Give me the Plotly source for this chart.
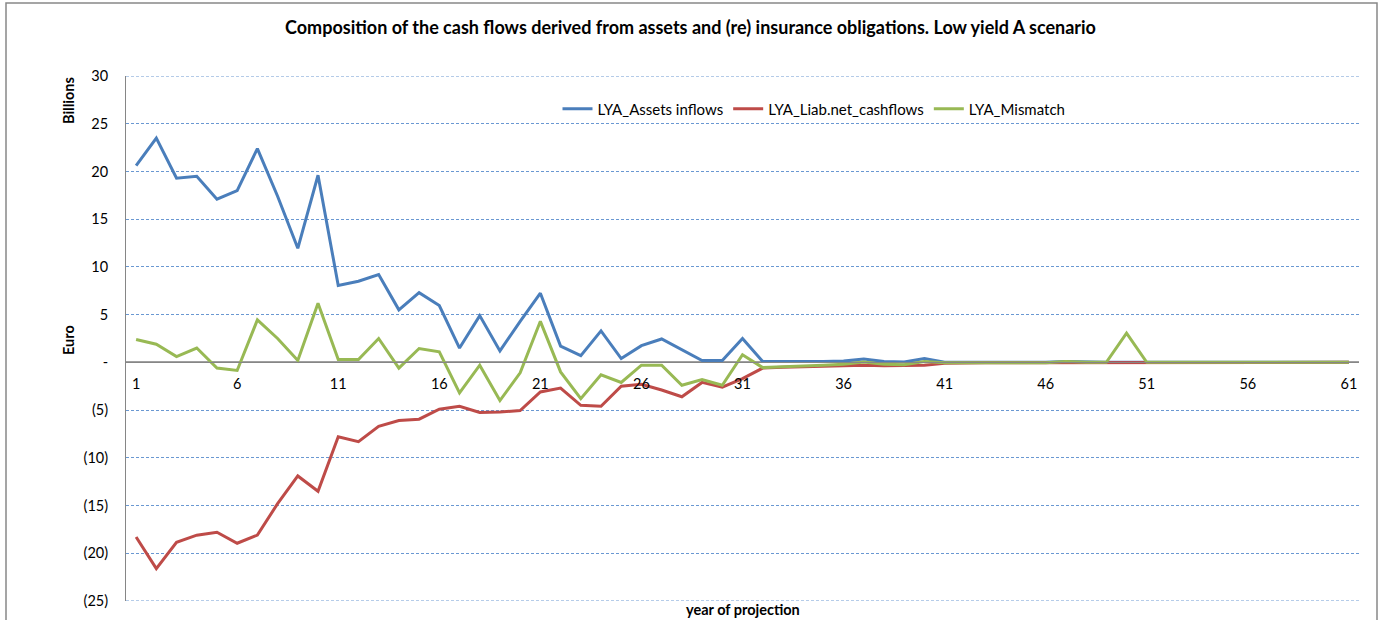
import plotly.graph_objects as go

years = list(range(1, 62))

assets_inflows = [20.6, 23.5, 19.3, 19.5, 17.1, 18.0, 22.4, 17.4, 11.95, 19.6,
                  8.05, 8.5, 9.2, 5.5, 7.3, 5.95, 1.5, 4.9, 1.2, 4.3,
                  7.25, 1.7, 0.7, 3.3, 0.4, 1.75, 2.45, 1.3, 0.2, 0.2,
                  2.5, 0.1, 0.08, 0.08, 0.08, 0.15, 0.35, 0.08, 0.05, 0.4,
                  0.02, 0.02, 0.02, 0.02, 0.02, 0.02, 0.1, 0.02, 0.0, 0.0,
                  0.0, 0.0, 0.0, 0.0, 0.0, 0.0, 0.0, 0.0, 0.0, 0.0, 0.0]

liab_net_cashflows = [-18.3, -21.6, -18.85, -18.1, -17.8, -18.95, -18.1, -14.8, -11.9, -13.5,
                      -7.8, -8.3, -6.7, -6.1, -5.95, -4.9, -4.6, -5.25, -5.2, -5.05,
                      -3.1, -2.7, -4.5, -4.6, -2.5, -2.3, -2.9, -3.6, -2.1, -2.6,
                      -1.7, -0.6, -0.5, -0.45, -0.4, -0.35, -0.3, -0.35, -0.35, -0.3,
                      -0.1, -0.05, -0.05, -0.05, -0.05, -0.05, -0.05, -0.02, 0.0, 0.0,
                      0.0, 0.0, 0.0, 0.0, 0.0, 0.0, 0.0, 0.0, 0.0, 0.0, 0.0]

mismatch = [2.4, 1.9, 0.6, 1.5, -0.6, -0.85, 4.45, 2.5, 0.2, 6.2,
            0.3, 0.3, 2.5, -0.6, 1.45, 1.1, -3.2, -0.3, -4.0, -1.1,
            4.3, -1.0, -3.8, -1.3, -2.1, -0.3, -0.3, -2.4, -1.8, -2.4,
            0.8, -0.55, -0.45, -0.4, -0.3, -0.2, 0.05, -0.2, -0.25, 0.1,
            -0.05, -0.03, -0.03, -0.03, -0.03, -0.03, 0.1, 0.0, 0.0, 3.05,
            0.0, 0.0, 0.0, 0.0, 0.0, 0.0, 0.0, 0.0, 0.0, 0.0, 0.0]

x_tickvals = [1, 6, 11, 16, 21, 26, 31, 36, 41, 46, 51, 56, 61]
y_tickvals = [30, 25, 20, 15, 10, 5, 0, -5, -10, -15, -20, -25]
y_ticktext = ["30", "25", "20", "15", "10", "5", "-", "(5)", "(10)", "(15)", "(20)", "(25)"]
y_min, y_max = -25, 30

FONT = "Lato"
FS = 14.5
GRID = "#6A98D2"
W, H = 1381, 620
L, R, T, B = 126, 22, 76, 19
pw, ph = W - L - R, H - T - B

fig = go.Figure()
series = [("LYA_Assets inflows", assets_inflows, "#4A7EBB"),
          ("LYA_Liab.net_cashflows", liab_net_cashflows, "#BE4B48"),
          ("LYA_Mismatch", mismatch, "#98B954")]
for name, vals, col in series:
    fig.add_trace(go.Scatter(x=years, y=vals, mode="lines", name=name,
                             line=dict(color=col, width=3)))

fig.update_layout(
    width=W, height=H,
    margin=dict(l=L, r=R, t=T, b=B, autoexpand=False),
    paper_bgcolor="white", plot_bgcolor="white",
    font=dict(family=FONT, size=FS, color="#000000"),
    title=dict(text="<b>Composition of the cash flows derived from assets and (re) insurance obligations. Low yield A scenario</b>",
               x=0.5, xanchor="center", y=1 - 28 / H, yanchor="middle",
               font=dict(family=FONT, size=18, color="#000000")),
    showlegend=True,
    legend=dict(orientation="h", x=(814 - L) / pw, xanchor="center",
                y=(H - B - 109) / ph, yanchor="middle",
                bgcolor="rgba(0,0,0,0)", font=dict(family=FONT, size=15),
                itemwidth=30),
    xaxis=dict(range=[0.5, 61.5], tickmode="array", tickvals=x_tickvals,
               ticktext=[str(v) for v in x_tickvals],
               anchor="free", position=-y_min / (y_max - y_min), automargin=False,
               showgrid=False, zeroline=False, showline=True,
               linecolor="#868686", linewidth=1, ticks="",
               ticklabelstandoff=8, tickfont=dict(family=FONT, size=FS)),
    yaxis=dict(range=[y_min, y_max], tickmode="array", tickvals=y_tickvals,
               ticktext=y_ticktext, showgrid=True, gridcolor=GRID,
               griddash="3px,2px", gridwidth=1, automargin=False,
               zeroline=True, zerolinecolor="#A0A0A0", zerolinewidth=1.5,
               showline=True, linecolor="#868686", linewidth=1, ticks="",
               ticklabelstandoff=14, tickfont=dict(family=FONT, size=FS)),
)

# gridlines at the range ends (plotly omits them at the plot edges)
for yv in (y_min, y_max):
    fig.add_shape(type="line", xref="paper", yref="y", x0=0, x1=1, y0=yv, y1=yv,
                  line=dict(color=GRID, width=1, dash="3px,2px"), layer="below")

# outer chart border
fig.add_shape(type="rect", xref="paper", yref="paper",
              x0=(6 - L) / pw, x1=(1377 - L) / pw,
              y0=(H - B - 640) / ph, y1=(H - B - 3) / ph,
              line=dict(color="#888888", width=1.5), layer="below")

fig.add_annotation(text="<b>Billions</b>", xref="paper", yref="paper",
                   x=(68 - L) / pw, y=(H - B - 101) / ph, textangle=-90,
                   xanchor="center", yanchor="middle",
                   showarrow=False, font=dict(family=FONT, size=FS))
fig.add_annotation(text="<b>Euro</b>", xref="paper", yref="paper",
                   x=(68 - L) / pw, y=(H - B - 340) / ph, textangle=-90,
                   xanchor="center", yanchor="middle",
                   showarrow=False, font=dict(family=FONT, size=FS))
fig.add_annotation(text="<b>year of projection</b>", xref="paper", yref="paper",
                   x=0.5, y=(H - B - 609) / ph, yanchor="middle",
                   showarrow=False, font=dict(family=FONT, size=FS))

fig.write_html("out.html", config={"displayModeBar": False},
               post_script="document.body.style.margin='0';document.body.style.padding='0';document.body.style.overflow='hidden';")
